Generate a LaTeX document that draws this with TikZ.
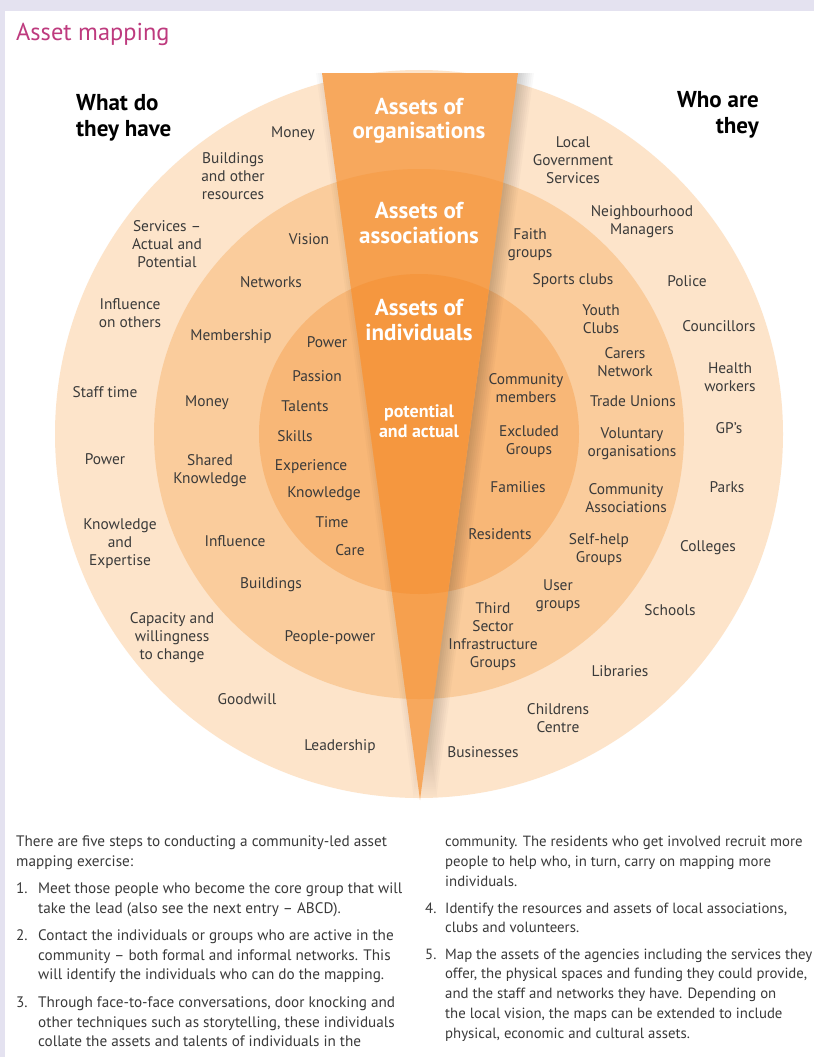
\documentclass[tikz,border=0pt]{standalone}
\usepackage{fontspec}
\setmainfont{PT Sans}
\definecolor{ringa}{HTML}{FDE4CA}
\definecolor{ringb}{HTML}{FACC9C}
\definecolor{ringc}{HTML}{F8B777}
\definecolor{wedgea}{HTML}{F7A85D}
\definecolor{wedgeb}{HTML}{F6A04E}
\definecolor{wedgec}{HTML}{F5973F}
\definecolor{lav}{HTML}{E4E2F0}
\definecolor{txt}{HTML}{3A3A3A}
\definecolor{ttl}{HTML}{BE3A7E}
\begin{document}
\begin{tikzpicture}[x=1pt,y=-1pt,
  lbl/.style={align=center, text=txt, font=\fontsize{15.4}{18}\selectfont, inner sep=0pt},
  wtitle/.style={align=center, text=white, font=\fontsize{23}{24.5}\selectfont\bfseries, inner sep=0pt},
  head/.style={text=black, font=\fontsize{23}{26}\selectfont\bfseries, inner sep=0pt},
  body/.style={anchor=base west, text=txt, font=\fontsize{15.2}{18}\selectfont, inner sep=0pt},
  bodyr/.style={body, font=\fontsize{14.8}{18}\selectfont}]
\useasboundingbox (0,0) rectangle (814,1057);
\fill[lav] (0,0) rectangle (814,1057);
\fill[white] (5,11) rectangle (814,1057);
\node[anchor=west, text=ttl, font=\fontsize{24.4}{30}\selectfont, inner sep=0pt] (title) at (16,34) {Asset mapping};

\coordinate (c) at (419,434);
\coordinate (wl) at (322,73);
\coordinate (wr) at (518,73);
\coordinate (wt) at (420,800);
\fill[ringa] (c) circle[radius=364pt];
\fill[ringb] (c) circle[radius=265pt];
\fill[ringc] (c) circle[radius=160pt];
% soft shadow along the wedge
\foreach \s in {2,4,...,16}{
  \fill[black, opacity=0.025] ([xshift=\s pt]wl) -- ([xshift=\s pt]wr) -- ([xshift=\s pt]wt) -- cycle;
}
\foreach \s in {2,4,6}{
  \fill[black, opacity=0.02] ([xshift=-\s pt]wl) -- ([xshift=-\s pt]wr) -- ([xshift=-\s pt]wt) -- cycle;
}
\begin{scope}
  \clip (wl) -- (wr) -- (wt) -- cycle;
  \fill[wedgea] (0,0) rectangle (814,820);
  \fill[wedgeb] (c) circle[radius=265pt];
  \fill[wedgec] (c) circle[radius=160pt];
\end{scope}

% wedge titles
\node[wtitle] (org) at (419,121) {Assets of\\organisations};
\node[wtitle] (asso) at (419,223) {Assets of\\associations};
\node[wtitle] (indi) at (419,320) {Assets of\\individuals};
\node[wtitle, font=\fontsize{18}{20}\selectfont\bfseries] (pa) at (419,421) {potential\\and actual};

% headings
\node[head, anchor=west, align=left] (what) at (76,118) {What do\\they have};
\node[head, anchor=east, align=right] (who) at (759,115) {Who are\\they};

% left outer
\node[lbl] (lo1) at (293,134) {Money};
\node[lbl] (lo2) at (233,176) {Buildings\\and other\\resources};
\node[lbl] (lo3) at (167,244) {Services --\\Actual and\\Potential};
\node[lbl] (lo4) at (130,313) {Influence\\on others};
\node[lbl] (lo5) at (105,392) {Staff time};
\node[lbl] (lo6) at (105,459) {Power};
\node[lbl] (lo7) at (120,544) {Knowledge\\and\\Expertise};
\node[lbl] (lo8) at (172,638) {Capacity and\\willingness\\to change};
\node[lbl] (lo9) at (247,699) {Goodwill};
\node[lbl] (lo10) at (340,747) {Leadership};

% left middle
\node[lbl] (lm1) at (309,239) {Vision};
\node[lbl] (lm2) at (271,282) {Networks};
\node[lbl] (lm3) at (231,337) {Membership};
\node[lbl] (lm4) at (207,403) {Money};
\node[lbl] (lm5) at (210,471) {Shared\\Knowledge};
\node[lbl] (lm6) at (235,541) {Influence};
\node[lbl] (lm7) at (271,585) {Buildings};
\node[lbl] (lm8) at (330,638) {People-power};

% left inner
\node[lbl] (li1) at (327,342) {Power};
\node[lbl] (li2) at (317,376) {Passion};
\node[lbl] (li3) at (305,406) {Talents};
\node[lbl] (li4) at (295,436) {Skills};
\node[lbl] (li5) at (311,467) {Experience};
\node[lbl] (li6) at (324,494) {Knowledge};
\node[lbl] (li7) at (332,522) {Time};
\node[lbl] (li8) at (350,550) {Care};

% right inner
\node[lbl] (ri1) at (526,388) {Community\\members};
\node[lbl] (ri2) at (529,442) {Excluded\\Groups};
\node[lbl] (ri3) at (518,487) {Families};
\node[lbl] (ri4) at (500,534) {Residents};

% right middle
\node[lbl] (rm1) at (530,245) {Faith\\groups};
\node[lbl] (rm2) at (573,281) {Sports clubs};
\node[lbl] (rm3) at (601,319) {Youth\\Clubs};
\node[lbl] (rm4) at (625,362) {Carers\\Network};
\node[lbl] (rm5) at (633,401) {Trade Unions};
\node[lbl] (rm6) at (632,444) {Voluntary\\organisations};
\node[lbl] (rm7) at (626,498) {Community\\Associations};
\node[lbl] (rm8) at (599,550) {Self-help\\Groups};
\node[lbl] (rm9) at (558,596) {User\\groups};
\node[lbl] (rm10) at (493,637) {Third\\Sector\\Infrastructure\\Groups};

% right outer
\node[lbl] (ro1) at (573,160) {Local\\Government\\Services};
\node[lbl] (ro2) at (642,222) {Neighbourhood\\Managers};
\node[lbl] (ro3) at (687,281) {Police};
\node[lbl] (ro4) at (719,326) {Councillors};
\node[lbl] (ro5) at (730,377) {Health\\workers};
\node[lbl] (ro6) at (729,428) {GP's};
\node[lbl] (ro7) at (727,487) {Parks};
\node[lbl] (ro8) at (708,548) {Colleges};
\node[lbl] (ro9) at (670,610) {Schools};
\node[lbl] (ro10) at (620,671) {Libraries};
\node[lbl] (ro11) at (558,718) {Childrens\\Centre};
\node[lbl] (ro12) at (483,752) {Businesses};

% bottom text, left column
\node[body] (b1) at (16,846) {There are five steps to conducting a community-led asset};
\node[body] (b2) at (16,866) {mapping exercise:};
\node[body] (n1) at (16,893) {1.};
\node[body] (b3) at (38,893) {Meet those people who become the core group that will};
\node[body] (b4) at (38,913) {take the lead (also see the next entry -- ABCD).};
\node[body] (n2) at (16,940) {2.};
\node[body] (b5) at (38,940) {Contact the individuals or groups who are active in the};
\node[body] (b6) at (38,960) {community -- both formal and informal networks. This};
\node[body] (b7) at (38,979) {will identify the individuals who can do the mapping.};
\node[body] (n3) at (16,1007) {3.};
\node[body] (b8) at (38,1007) {Through face-to-face conversations, door knocking and};
\node[body] (b9) at (38,1027) {other techniques such as storytelling, these individuals};
\node[body] (b10) at (38,1046) {collate the assets and talents of individuals in the};

% bottom text, right column
\node[bodyr] (c1) at (445,846) {community. The residents who get involved recruit more};
\node[bodyr] (c2) at (445,866) {people to help who, in turn, carry on mapping more};
\node[bodyr] (c3) at (445,886) {individuals.};
\node[bodyr] (n4) at (425,913) {4.};
\node[bodyr] (c4) at (445,913) {Identify the resources and assets of local associations,};
\node[bodyr] (c5) at (445,932) {clubs and volunteers.};
\node[bodyr] (n5) at (425,959) {5.};
\node[bodyr] (c6) at (445,959) {Map the assets of the agencies including the services they};
\node[bodyr] (c7) at (445,978) {offer, the physical spaces and funding they could provide,};
\node[bodyr] (c8) at (445,998) {and the staff and networks they have. Depending on};
\node[bodyr] (c9) at (445,1018) {the local vision, the maps can be extended to include};
\node[bodyr] (c10) at (445,1038) {physical, economic and cultural assets.};
\end{tikzpicture}
\end{document}
